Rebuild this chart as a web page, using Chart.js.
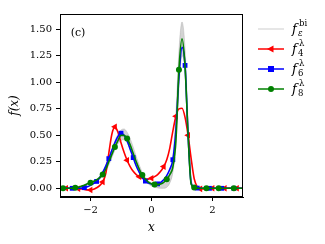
<!DOCTYPE html>
<html>
<head>
<meta charset="utf-8">
<script src="https://cdn.jsdelivr.net/npm/chart.js@4"></script>
<style>
  html, body { margin: 0; padding: 0; background: #fff; }
</style>
</head>
<body>
<canvas id="myChart" width="325" height="244"></canvas>
<script>
// x grid, step 0.1 from -3 to 3
const xs = Array.from({ length: 61 }, (_, i) => +(-3 + i * 0.1).toFixed(1))

const f4 = [0, 0, 0, 0, -0.001, -0.002, -0.004, -0.007, -0.011, -0.015,
  -0.016, -0.01, 0.005, 0.025, 0.06, 0.14, 0.33, 0.51, 0.58, 0.53,
  0.43, 0.34, 0.265, 0.205, 0.16, 0.13, 0.11, 0.095, 0.087, 0.087,
  0.095, 0.11, 0.13, 0.16, 0.205, 0.27, 0.38, 0.54, 0.68, 0.75,
  0.755, 0.67, 0.5, 0.28, 0.09, 0.015, -0.005, -0.006, -0.004, -0.002,
  0, 0, 0, 0, 0, 0, 0, 0, 0, 0, 0]

const f6 = [0, 0, 0, 0, 0, 0, 0, 0.002, 0.006, 0.015,
  0.028, 0.045, 0.065, 0.1, 0.15, 0.21, 0.28, 0.36, 0.43, 0.49,
  0.52, 0.5, 0.45, 0.37, 0.29, 0.21, 0.15, 0.1, 0.068, 0.05,
  0.042, 0.04, 0.042, 0.055, 0.08, 0.12, 0.18, 0.27, 0.55, 1.05,
  1.33, 1.16, 0.5, 0.05, 0.008, 0.002, 0, 0, 0, 0,
  0, 0, 0, 0, 0, 0, 0, 0, 0, 0, 0]

const f8 = [0, 0, 0, 0, 0.002, 0.005, 0.01, 0.02, 0.03, 0.042,
  0.052, 0.065, 0.08, 0.1, 0.13, 0.18, 0.25, 0.32, 0.39, 0.45,
  0.5, 0.5, 0.47, 0.41, 0.33, 0.25, 0.18, 0.125, 0.085, 0.058,
  0.042, 0.036, 0.035, 0.04, 0.055, 0.085, 0.13, 0.2, 0.45, 1.12,
  1.41, 1.15, 0.5, 0.04, 0.008, 0.002, 0, 0, 0, 0,
  0, 0, 0, 0, 0, 0, 0, 0, 0, 0, 0]

// spread of the f_eps^bi samples (upper / lower envelope)
const biHigh = [0, 0, 0, 0, 0, 0.006, 0.012, 0.022, 0.033, 0.045,
  0.057, 0.07, 0.088, 0.11, 0.15, 0.21, 0.29, 0.37, 0.45, 0.51,
  0.55, 0.56, 0.53, 0.47, 0.39, 0.3, 0.22, 0.15, 0.1, 0.07,
  0.052, 0.045, 0.045, 0.05, 0.06, 0.09, 0.15, 0.3, 0.7, 1.3,
  1.57, 1.32, 0.62, 0.1, 0.012, 0.003, 0, 0, 0, 0,
  0, 0, 0, 0, 0, 0, 0, 0, 0, 0, 0]

const biLow = [0, 0, 0, 0, 0, 0.002, 0.006, 0.012, 0.02, 0.03,
  0.04, 0.052, 0.066, 0.085, 0.115, 0.16, 0.22, 0.29, 0.36, 0.42,
  0.45, 0.46, 0.43, 0.37, 0.3, 0.22, 0.15, 0.1, 0.065, 0.04,
  0.022, 0.01, 0.004, 0, 0, 0.01, 0.05, 0.15, 0.4, 0.95,
  1.25, 1.1, 0.45, 0.03, 0.002, 0, 0, 0, 0, 0,
  0, 0, 0, 0, 0, 0, 0, 0, 0, 0, 0]

// where the markers sit on each curve
const marks4 = [-2.8, -2.4, -2.0, -1.6, -1.2, -0.8, -0.4, 0.0, 0.4, 0.8, 1.2, 1.6, 2.0, 2.4, 2.8]
const marks6 = [-2.6, -2.2, -1.8, -1.4, -1.0, -0.6, -0.2, 0.2, 0.7, 1.1, 1.5, 1.9, 2.3, 2.7]
const marks8 = [-2.9, -2.5, -2.0, -1.6, -1.2, -0.8, -0.3, 0.1, 0.5, 0.9, 1.4, 1.8, 2.2, 2.7]

const xTicks = [-2, 0, 2]
const yTicks = [0, 0.25, 0.5, 0.75, 1.0, 1.25, 1.5]

const SERIF = "'DejaVu Serif', serif"

function toPoints (ys) {
  return xs.map((x, i) => ({ x, y: ys[i] }))
}

function markerRadius (marks, r) {
  return (ctx) => {
    const x = xs[ctx.dataIndex]
    return marks.some(m => Math.abs(m - x) < 1e-6) ? r : 0
  }
}

function fmtTick (v) {
  return v < 0 ? '\u2212' + Math.abs(v) : String(v)
}

/**
 * Frame, panel label, axis titles and the legend on the right.
 */
const decorations = {
  id: 'decorations',
  afterDraw (chart) {
    const { ctx, chartArea: a } = chart
    ctx.save()
    ctx.strokeStyle = '#000'
    ctx.lineWidth = 1
    ctx.strokeRect(a.left + 0.5, a.top + 0.5, a.right - a.left - 1, a.bottom - a.top - 1)

    ctx.fillStyle = '#000'
    ctx.textBaseline = 'middle'
    ctx.textAlign = 'center'
    ctx.font = '11px ' + SERIF
    ctx.fillText('(c)', 78, 33)

    ctx.font = 'italic 12px ' + SERIF
    ctx.fillText('x', (a.left + a.right) / 2, 228)
    ctx.save()
    ctx.translate(15, (a.top + a.bottom) / 2)
    ctx.rotate(-Math.PI / 2)
    ctx.fillText('f(x)', 0, 0)
    ctx.restore()

    const rows = [
      { y: 29, color: '#dedede', sub: '\u03b5', subItalic: true, sup: 'bi', marker: null },
      { y: 49, color: '#ff0000', sub: '4', sup: '\u03bb', marker: 'tri' },
      { y: 69, color: '#0000ff', sub: '6', sup: '\u03bb', marker: 'square' },
      { y: 89, color: '#008000', sub: '8', sup: '\u03bb', marker: 'circle' }
    ]
    rows.forEach(r => {
      ctx.strokeStyle = r.color
      ctx.fillStyle = r.color
      ctx.lineWidth = 1.5
      ctx.beginPath()
      ctx.moveTo(258, r.y)
      ctx.lineTo(284, r.y)
      ctx.stroke()
      const cx = 271
      if (r.marker === 'tri') {
        ctx.beginPath()
        ctx.moveTo(cx - 4, r.y)
        ctx.lineTo(cx + 2.5, r.y - 3.5)
        ctx.lineTo(cx + 2.5, r.y + 3.5)
        ctx.closePath()
        ctx.fill()
      } else if (r.marker === 'square') {
        ctx.fillRect(cx - 3, r.y - 3, 6, 6)
      } else if (r.marker === 'circle') {
        ctx.beginPath()
        ctx.arc(cx, r.y, 3, 0, Math.PI * 2)
        ctx.fill()
      }
      ctx.fillStyle = '#000'
      ctx.textAlign = 'left'
      ctx.font = 'italic 13px ' + SERIF
      ctx.fillText('f', 292, r.y + 1)
      ctx.font = (r.subItalic ? 'italic ' : '') + '8.5px ' + SERIF
      ctx.fillText(r.sub, 298, r.y + 4.5)
      ctx.font = '8.5px ' + SERIF
      ctx.fillText(r.sup, 299, r.y - 5.5)
    })
    ctx.restore()
  }
}

const axisFont = { family: SERIF, size: 10 }

new Chart(document.getElementById('myChart').getContext('2d'), {
  type: 'line',
  data: {
    datasets: [
      {
        label: 'f8',
        data: toPoints(f8),
        borderColor: '#008000',
        backgroundColor: '#008000',
        borderWidth: 1.6,
        pointStyle: 'circle',
        pointRadius: markerRadius(marks8, 3),
        pointBorderWidth: 0,
        cubicInterpolationMode: 'monotone',
        order: 1
      },
      {
        label: 'f6',
        data: toPoints(f6),
        borderColor: '#0000ff',
        backgroundColor: '#0000ff',
        borderWidth: 1.6,
        pointStyle: 'rect',
        pointRadius: markerRadius(marks6, 3.4),
        pointBorderWidth: 0,
        cubicInterpolationMode: 'monotone',
        order: 2
      },
      {
        label: 'f4',
        data: toPoints(f4),
        borderColor: '#ff0000',
        backgroundColor: '#ff0000',
        borderWidth: 1.6,
        pointStyle: 'triangle',
        pointRotation: -90,
        pointRadius: markerRadius(marks4, 3.8),
        pointBorderWidth: 0,
        cubicInterpolationMode: 'monotone',
        order: 3
      },
      {
        label: 'bi high',
        data: toPoints(biHigh),
        borderColor: 'rgba(160,160,160,0.5)',
        backgroundColor: 'rgba(140,140,140,0.38)',
        borderWidth: 0.7,
        pointRadius: 0,
        fill: '+1',
        cubicInterpolationMode: 'monotone',
        order: 4
      },
      {
        label: 'bi low',
        data: toPoints(biLow),
        borderColor: 'rgba(175,175,175,0.7)',
        borderWidth: 0.7,
        pointRadius: 0,
        fill: false,
        cubicInterpolationMode: 'monotone',
        order: 5
      }
    ]
  },
  options: {
    responsive: false,
    animation: false,
    devicePixelRatio: 1,
    clip: false,
    layout: { padding: { left: 0, right: 82, top: 14, bottom: 0 } },
    plugins: {
      legend: { display: false },
      tooltip: { enabled: false }
    },
    scales: {
      x: {
        type: 'linear',
        min: -3,
        max: 3,
        afterBuildTicks: s => { s.ticks = xTicks.map(v => ({ value: v })) },
        afterFit: s => { s.height = 47 },
        ticks: { callback: fmtTick, font: axisFont, color: '#000', padding: 3, maxRotation: 0, autoSkip: false },
        grid: { drawOnChartArea: false, tickLength: 4, color: '#000', tickColor: '#000' },
        border: { color: '#000', width: 1 }
      },
      y: {
        min: -0.082,
        max: 1.645,
        afterBuildTicks: s => { s.ticks = yTicks.map(v => ({ value: v })) },
        afterFit: s => { s.width = 60 },
        ticks: { callback: v => v.toFixed(2), font: axisFont, color: '#000', padding: 4, autoSkip: false },
        grid: { drawOnChartArea: false, tickLength: 4, color: '#000', tickColor: '#000' },
        border: { color: '#000', width: 1 }
      }
    }
  },
  plugins: [decorations]
})
</script>
</body>
</html>
